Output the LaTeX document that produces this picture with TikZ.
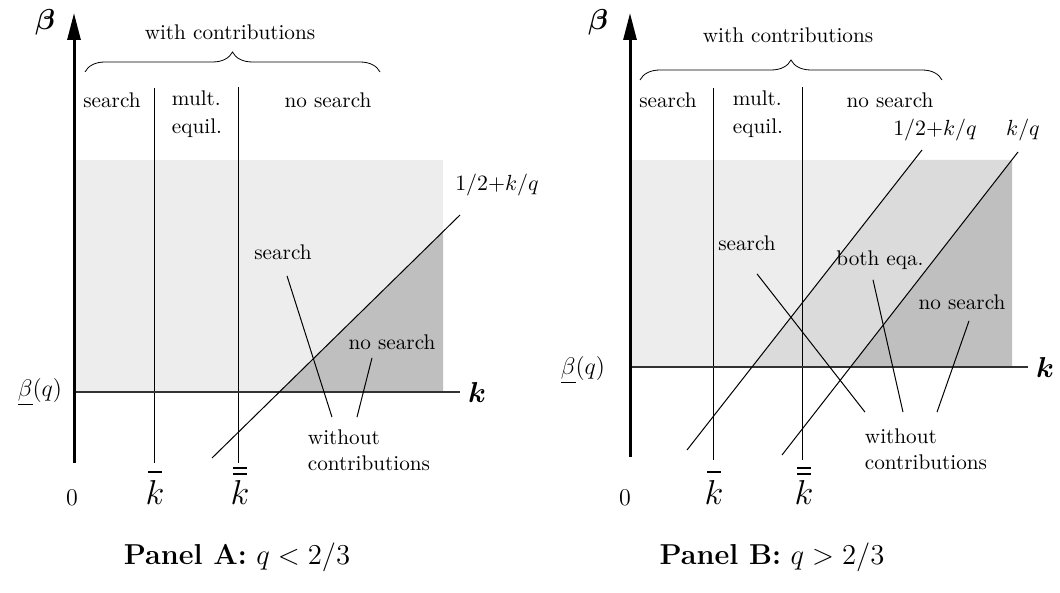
\documentclass[tikz,border=0pt]{standalone}
\usepackage{amsmath,amssymb}
\usepackage{xcolor}
\usepackage{tikz}
\usetikzlibrary{arrows.meta, decorations.pathreplacing, positioning}

\definecolor{shadelight}{gray}{0.93}
\definecolor{shademid}{gray}{0.86}
\definecolor{shadedark}{gray}{0.75}

\newcommand{\onebar}{\rule{7pt}{0.7pt}}
\newcommand{\twobar}{\rule{7pt}{0.7pt}\llap{\rule[3pt]{7pt}{0.7pt}}}

\begin{document}
\begin{tikzpicture}[x=0.5pt, y=-0.5pt,
  every node/.style={font=\fontsize{10.6}{13}\selectfont},
  yaxis/.style={line width=1.5pt, -{Triangle[length=13.5pt, width=6.5pt]}},
  thin line/.style={line width=0.5pt},
  kline/.style={line width=0.7pt, black!80},
  lbl/.style={inner sep=1pt},
  kmark/.style={font=\LARGE, align=center, inner sep=0pt, anchor=south},
  curly/.style={decorate, decoration={brace, amplitude=10pt}}]
\useasboundingbox (0,0) rectangle (1060,593);
\begin{scope}
  % shaded regions
  \fill[shadelight] (74,160) rectangle (443,392);
  \fill[shadedark] (279,392) -- (443,392) -- (443,232) -- cycle;
  % region borders
  \draw[thin line] (154,88) -- (154,463);
  \draw[thin line] (238,87) -- (238,463);
  \draw[kline] (74,392) -- (460,392);
  \draw[yaxis] (74,463) -- (74,13);
  % boundary line
  \draw[thin line] (212,458) -- (460,215);
  \node[lbl] (bndA) at (497,185) {$1/2{+}k/q$};
  % axis labels
  \node (betaA) at (45,22) {\Large$\boldsymbol{\beta}$};
  \node (kA) at (477,392) {\Large$\boldsymbol{k}$};
  \node (betaqA) at (40,392) {\large$\underline{\beta}(q)$};
  \node (zeroA) at (72,498) {\large$0$};
  \node[kmark] (kbA) at (155,505) {\onebar\\[-6pt]$k$};
  \node[kmark] (kbbA) at (240,505) {\twobar\\[-7pt]$k$};
  % with contributions
  \draw[curly] (85,72) -- (380,72);
  \node (withA) at (230,32) {with contributions};
  \node[lbl] (srchtopA) at (112,100) {search};
  \node[lbl, align=left] (multA) at (197,114) {mult.\\[1pt]equil.};
  \node[lbl] (nosrchtopA) at (328,100) {no search};
  % without contributions
  \node[lbl] (srchA) at (283,252) {search};
  \node[lbl] (nosrchA) at (392,342) {no search};
  \node[lbl, align=left] (woA) at (369,450) {without\\contributions};
  \draw[thin line] ([shift={(4,14)}]srchA.south) -- ([shift={(-37,-10)}]woA.north);
  \draw[thin line] ([shift={(-20,6)}]nosrchA.south) -- ([shift={(-12,-10)}]woA.north);
  \node (titleA) at (237,557) {\Large\textbf{Panel A:} $q<2/3$};
\end{scope}
\begin{scope}
  % shaded regions
  \fill[shadelight] (630,160) rectangle (1012,367);
  \fill[shademid] (752,367) -- (914,160) -- (1012,160) -- (850,367) -- cycle;
  \fill[shadedark] (850,367) -- (1012,367) -- (1012,160) -- cycle;
  % region borders
  \draw[thin line] (713,88) -- (713,460);
  \draw[thin line] (802,87) -- (802,460);
  \draw[kline] (630,367) -- (1028,367);
  \draw[yaxis] (630,457) -- (630,13);
  % boundary lines
  \draw[thin line] (687,450) -- (922,150);
  \draw[thin line] (782,455) -- (1018,152);
  \node[lbl] (bndB) at (935,130) {$1/2{+}k/q$};
  \node[lbl] (kqB) at (1023,130) {$k/q$};
  % axis labels
  \node (betaB) at (598,22) {\Large$\boldsymbol{\beta}$};
  \node (kB) at (1045,367) {\Large$\boldsymbol{k}$};
  \node (betaqB) at (583,370) {\large$\underline{\beta}(q)$};
  \node (zeroB) at (625,498) {\large$0$};
  \node[kmark] (kbB) at (714,505) {\onebar\\[-6pt]$k$};
  \node[kmark] (kbbB) at (804,505) {\twobar\\[-7pt]$k$};
  % with contributions
  \draw[curly] (640,80) -- (942,80);
  \node (withB) at (788,35) {with contributions};
  \node[lbl] (srchtopB) at (668,100) {search};
  \node[lbl, align=left] (multB) at (758,114) {mult.\\[1pt]equil.};
  \node[lbl] (nosrchtopB) at (890,100) {no search};
  % without contributions
  \node[lbl] (srchB) at (747,243) {search};
  \node[lbl] (bothB) at (880,260) {both eqa.};
  \node[lbl] (nosrchB) at (962,302) {no search};
  \node[lbl, align=left] (woB) at (926,449) {without\\contributions};
  \draw[thin line] ([shift={(10,21)}]srchB.south) -- ([shift={(-61,-14)}]woB.north);
  \draw[thin line] ([shift={(-7,8)}]bothB.south) -- ([shift={(-23,-14)}]woB.north);
  \draw[thin line] ([shift={(7,9)}]nosrchB.south) -- ([shift={(11,-14)}]woB.north);
  \node (titleB) at (772,557) {\Large\textbf{Panel B:} $q>2/3$};
\end{scope}
\end{tikzpicture}
\end{document}
